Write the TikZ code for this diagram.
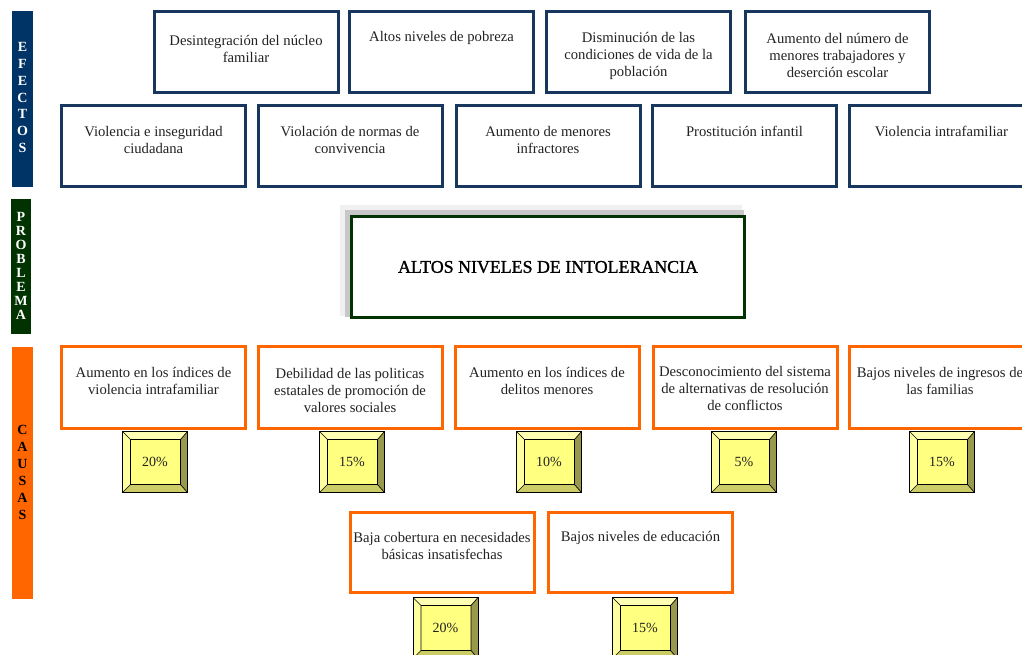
\documentclass[tikz,border=0pt]{standalone}
\usepackage{fontspec}
\setmainfont{Liberation Serif}
\usetikzlibrary{calc}
\definecolor{effblue}{RGB}{23,55,94}
\definecolor{barblue}{RGB}{0,51,102}
\definecolor{bargreen}{RGB}{0,51,0}
\definecolor{probgreen}{RGB}{0,51,0}
\definecolor{causeor}{RGB}{255,102,0}
\definecolor{txtgray}{RGB}{34,34,34}
\definecolor{pface}{RGB}{255,255,128}
\definecolor{ptop}{RGB}{255,255,179}
\definecolor{pleft}{RGB}{255,255,160}
\definecolor{pright}{RGB}{153,153,77}
\definecolor{pbottom}{RGB}{204,204,102}
\definecolor{shadelight}{RGB}{240,240,240}
\definecolor{shadedark}{RGB}{200,200,200}
\begin{document}
\begin{tikzpicture}[x=0.75pt,y=-0.75pt,
  effbox/.style={draw=effblue, line width=2.25pt, minimum width=138pt, minimum height=60.75pt, inner sep=0pt, fill=white},
  causebox/.style={draw=causeor, line width=2.25pt, minimum width=138pt, minimum height=61.5pt, inner sep=0pt, fill=white},
  txt/.style={align=center, inner sep=0pt, text=txtgray, font=\fontsize{11}{12.75}\selectfont},
  sidebar/.style={inner sep=0pt, draw=none},
  barlbl/.style={align=center, inner sep=0pt, font=\bfseries\fontsize{10.5}{#1}\selectfont},
  probbox/.style={draw=probgreen, line width=2.25pt, fill=white, minimum width=294.75pt, minimum height=75.75pt, inner sep=0pt, font=\fontsize{13.4}{15}\selectfont\addfontfeatures{FakeBold=1.2}},
  pbox/.style={draw=black, line width=0.6pt, fill=pface, minimum width=48.75pt, minimum height=45.75pt, inner sep=0pt, text=txtgray, font=\fontsize{10.5}{12}\selectfont,
    path picture={
      \coordinate (pA) at (path picture bounding box.north west);
      \coordinate (pB) at (path picture bounding box.north east);
      \coordinate (pC) at (path picture bounding box.south east);
      \coordinate (pD) at (path picture bounding box.south west);
      \coordinate (qA) at ($(pA)+(8,8)$);
      \coordinate (qB) at ($(pB)+(-7,8)$);
      \coordinate (qC) at ($(pC)+(-7,-8)$);
      \coordinate (qD) at ($(pD)+(8,-8)$);
      \fill[ptop] (pA) -- (pB) -- (qB) -- (qA) -- cycle;
      \fill[pright] (pB) -- (pC) -- (qC) -- (qB) -- cycle;
      \fill[pbottom] (pC) -- (pD) -- (qD) -- (qC) -- cycle;
      \fill[pleft] (pD) -- (pA) -- (qA) -- (qD) -- cycle;
      \draw[black, line width=0.5pt] (pA) -- (qA) (pB) -- (qB) (pC) -- (qC) (pD) -- (qD)
        (qA) -- (qB) -- (qC) -- (qD) -- cycle;
    }}
]
\useasboundingbox (0,0) rectangle (1022,654);
\clip (0,0) rectangle (1022,654);

% side bars
\node[sidebar, fill=barblue, minimum width=15.75pt, minimum height=132pt] (b1) at (22.5,99) {};
\node[barlbl=12.6, text=white] (l1) at (22.5,97.5) {E\\F\\E\\C\\T\\O\\S};
\node[sidebar, fill=bargreen, minimum width=15pt, minimum height=101.25pt] (b2) at (21,266.5) {};
\node[barlbl=10.5, text=white] (l2) at (21,266) {P\\R\\O\\B\\L\\E\\M\\A};
\node[sidebar, fill=causeor, minimum width=15.75pt, minimum height=189pt] (b3) at (22.5,473) {};
\node[barlbl=12.75, text=black] (l3) at (22.5,472.5) {C\\A\\U\\S\\A\\S};

% effects, top row
\node[effbox] (e1) at (246,52) {};
\node[txt] (te1) at (246,48.5) {Desintegración del núcleo\\familiar};
\node[effbox] (e2) at (441.5,52) {};
\node[txt] (te2) at (441.5,37.5) {Altos niveles de pobreza};
\node[effbox] (e3) at (638.5,52) {};
\node[txt] (te3) at (638.5,55.5) {Disminución de las\\condiciones de vida de la\\población};
\node[effbox] (e4) at (837.5,52) {};
\node[txt] (te4) at (837.5,55.5) {Aumento del número de\\menores trabajadores y\\deserción escolar};

% effects, bottom row
\node[effbox] (e5) at (153.5,146) {};
\node[txt] (te5) at (153.5,139.5) {Violencia e inseguridad\\ciudadana};
\node[effbox] (e6) at (350,146) {};
\node[txt] (te6) at (350,139.5) {Violación de normas de\\convivencia};
\node[effbox] (e7) at (548,146) {};
\node[txt] (te7) at (548,139.5) {Aumento de menores\\infractores};
\node[effbox] (e8) at (744.5,146) {};
\node[txt] (te8) at (744.5,131) {Prostitución infantil};
\node[effbox] (e9) at (941.5,146) {};
\node[txt] (te9) at (941.5,131) {Violencia intrafamiliar};

% problem
\fill[shadelight] (340,205) rectangle (742,316);
\fill[shadedark] (345,210) rectangle (744,317);
\node[probbox] (prob) at (548,267) {ALTOS NIVELES DE INTOLERANCIA};

% causes
\node[causebox] (c1) at (153.5,387.5) {};
\node[txt] (tc1) at (153.5,380.5) {Aumento en los índices de\\violencia intrafamiliar};
\node[causebox] (c2) at (350,387.5) {};
\node[txt] (tc2) at (350,390) {Debilidad de las politicas\\estatales de promoción de\\valores sociales};
\node[causebox] (c3) at (547,387.5) {};
\node[txt] (tc3) at (547,380.5) {Aumento en los índices de\\delitos menores};
\node[causebox] (c4) at (745,387.5) {};
\node[txt] (tc4) at (745,388) {Desconocimiento del sistema\\de alternativas de resolución\\de conflictos};
\node[causebox] (c5) at (941.5,387.5) {};
\node[txt] (tc5) at (940,380.5) {Bajos niveles de ingresos de\\las familias};
\node[causebox, minimum height=60pt] (c6) at (442,552.5) {};
\node[txt] (tc6) at (442,545.5) {Baja cobertura en necesidades\\básicas insatisfechas};
\node[causebox, minimum height=60pt] (c7) at (640.5,552.5) {};
\node[txt] (tc7) at (640.5,537.5) {Bajos niveles de educación};

% percentages
\node[pbox] (p1) at (155,462) {20\%};
\node[pbox] (p2) at (352,462) {15\%};
\node[pbox] (p3) at (549,462) {10\%};
\node[pbox] (p4) at (744,462) {5\%};
\node[pbox] (p5) at (942,462) {15\%};
\node[pbox] (p6) at (445.5,628) {20\%};
\node[pbox] (p7) at (645,628) {15\%};
\end{tikzpicture}
\end{document}
